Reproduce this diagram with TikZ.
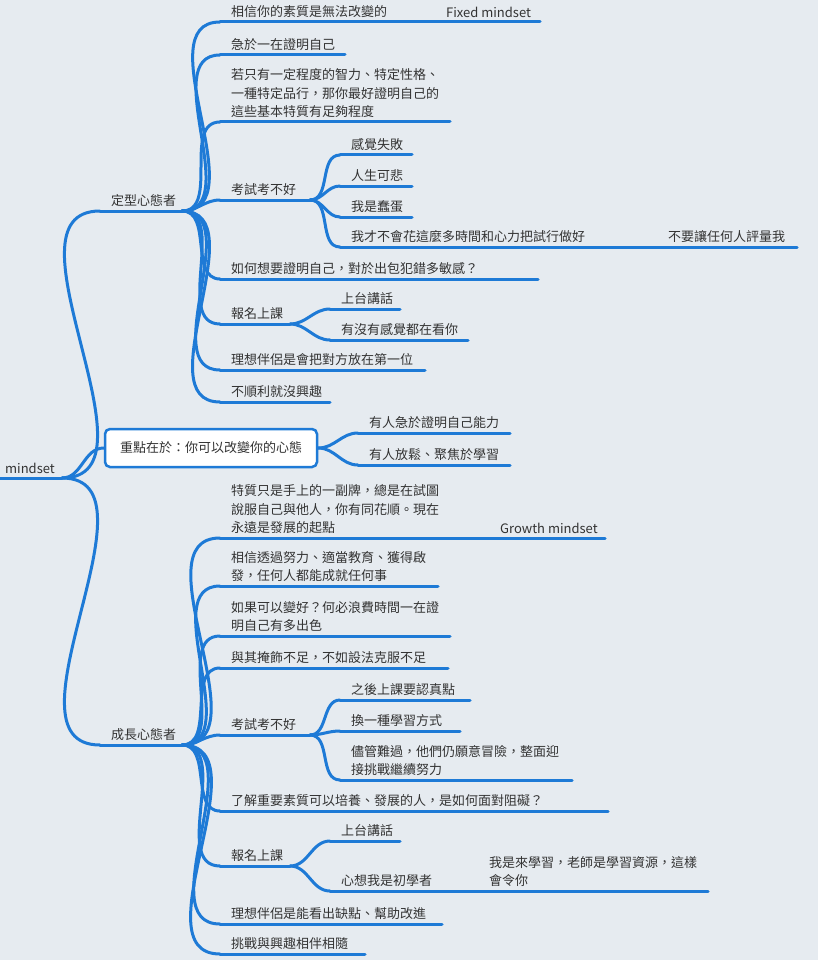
\documentclass[tikz,border=0pt]{standalone}
\usepackage{fontspec}
\newfontfamily\cjk{Noto Sans CJK TC}
\definecolor{bgc}{HTML}{E6EBF0}
\definecolor{lc}{HTML}{1E7AD6}
\definecolor{tc}{HTML}{333333}
\tikzset{ul/.style={draw=lc,line width=3pt,line cap=round},
 txt/.style={anchor=south west,inner sep=0pt,align=left,text=tc,font=\cjk\fontsize{13}{18.5}\selectfont}}
\newcommand\mm[5]{\coordinate (#1-s) at (#2,#4); \coordinate (#1-e) at (#3,#4);
 \draw[ul] (#1-s) -- (#1-e);
 \node[txt] (#1) at (#2+11,#4-4) {#5};}
\newcommand\cn[2]{\draw[ul] (#1-e) to[out=0,in=180] (#2-s);}
\begin{document}
\begin{tikzpicture}[x=1pt,y=-1pt]
\fill[bgc] (0,0) rectangle (818,960);
\useasboundingbox (0,0) rectangle (818,960);
% root
\mm{root}{0}{62}{478}{}
\node[txt] (roottxt) at (5,474) {mindset};
% fixed
\mm{fix}{100}{182}{211}{定型心態者}
\cn{root}{fix}
\mm{f1}{220}{540}{22}{相信你的素質是無法改變的}
\node[txt] (fixedlbl) at (446,18) {Fixed mindset};
\mm{f2}{220}{345}{55}{急於一在證明自己}
\mm{f3}{220}{450}{122}{若只有一定程度的智力、特定性格、\\一種特定品行，那你最好證明自己的\\這些基本特質有足夠程度}
\mm{f4}{220}{310}{200}{考試考不好}
\mm{f41}{340}{412}{155}{感覺失敗}
\mm{f42}{340}{412}{186}{人生可悲}
\mm{f43}{340}{412}{217}{我是蠢蛋}
\mm{f44}{340}{622}{247}{我才不會花這麼多時間和心力把試行做好}
\coordinate (f45-s) at (622,247); \coordinate (f45-e) at (797,247);
\draw[ul] (f45-s) -- (f45-e);
\node[txt] (f45) at (668,243) {不要讓任何人評量我};
\mm{f5}{220}{538}{279}{如何想要證明自己，對於出包犯錯多敏感？}
\mm{f6}{220}{290}{324}{報名上課}
\mm{f61}{330}{400}{309}{上台講話}
\mm{f62}{330}{468}{340}{有沒有感覺都在看你}
\mm{f7}{220}{425}{370}{理想伴侶是會把對方放在第一位}
\mm{f8}{220}{330}{402}{不順利就沒興趣}
\foreach \c in {f1,f2,f3,f4,f5,f6,f7,f8}{\cn{fix}{\c}}
\foreach \c in {f41,f42,f43,f44}{\cn{f4}{\c}}
\foreach \c in {f61,f62}{\cn{f6}{\c}}
% box
\node[draw=lc,line width=2.5pt,fill=white,rounded corners=5pt,minimum width=212pt,minimum height=38pt,inner sep=0pt,text=tc,font=\cjk\fontsize{13}{16}\selectfont] (key) at (211,448) {重點在於：你可以改變你的心態};
\draw[ul] (root-e) to[out=0,in=180] (key.west);
\mm{k1}{358}{510}{433}{有人急於證明自己能力}
\mm{k2}{358}{510}{465}{有人放鬆、聚焦於學習}
\draw[ul] (key.east) to[out=0,in=180] (k1-s);
\draw[ul] (key.east) to[out=0,in=180] (k2-s);
% growth
\mm{gro}{100}{182}{745}{成長心態者}
\cn{root}{gro}
\mm{g1}{220}{605}{538}{特質只是手上的一副牌，總是在試圖\\說服自己與他人，你有同花順。現在\\永遠是發展的起點}
\node[txt] (growthlbl) at (500,534) {Growth mindset};
\mm{g2}{220}{438}{586}{相信透過努力、適當教育、獲得啟\\發，任何人都能成就任何事}
\mm{g3}{220}{450}{636}{如果可以變好？何必浪費時間一在證\\明自己有多出色}
\mm{g4}{220}{448}{668}{與其掩飾不足，不如設法克服不足}
\mm{g5}{220}{310}{735}{考試考不好}
\mm{g51}{340}{470}{700}{之後上課要認真點}
\mm{g52}{340}{460}{731}{換一種學習方式}
\mm{g53}{340}{572}{780}{儘管難過，他們仍願意冒險，整面迎\\接挑戰繼續努力}
\mm{g6}{220}{608}{811}{了解重要素質可以培養、發展的人，是如何面對阻礙？}
\mm{g7}{220}{290}{866}{報名上課}
\mm{g71}{330}{400}{841}{上台講話}
\mm{g72}{330}{480}{891}{心想我是初學者}
\mm{g73}{478}{708}{891}{我是來學習，老師是學習資源，這樣\\會令你}
\mm{g8}{220}{442}{924}{理想伴侶是能看出缺點、幫助改進}
\mm{g9}{220}{365}{954}{挑戰與興趣相伴相隨}
\foreach \c in {g1,g2,g3,g4,g5,g6,g7,g8,g9}{\cn{gro}{\c}}
\foreach \c in {g51,g52,g53}{\cn{g5}{\c}}
\foreach \c in {g71,g72}{\cn{g7}{\c}}
\end{tikzpicture}
\end{document}
